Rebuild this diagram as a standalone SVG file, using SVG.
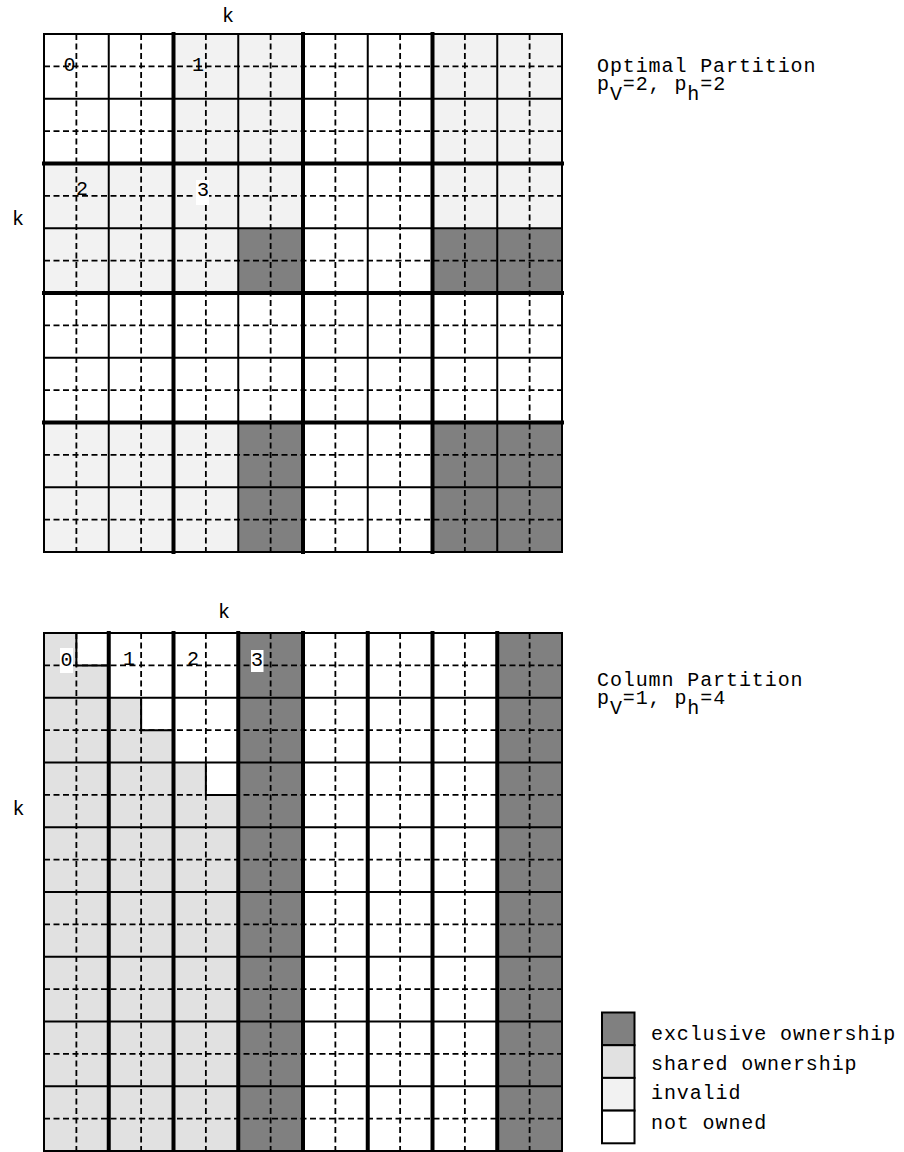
<svg xmlns="http://www.w3.org/2000/svg" width="904" height="1152" viewBox="0 0 904 1152">
<style>
text{font-family:"Liberation Mono","Courier New",monospace;font-size:20px;letter-spacing:0.9px;fill:#000}
.lbl{text-anchor:middle;letter-spacing:0}
.inv{fill:#f2f2f2}
.shr{fill:#e1e1e1}
.exc{fill:#808080}
.dash{fill:none;stroke:#000;stroke-width:1.8;stroke-dasharray:6 3.5}
.thin{fill:none;stroke:#000;stroke-width:2}
.thick{fill:none;stroke:#000;stroke-width:4;stroke-linecap:square}
.box{stroke:#000;stroke-width:2}
</style>
<rect width="904" height="1152" fill="#fff"/>

<g id="optimal-grid" transform="translate(44,34)">
  <rect x="0" y="0" width="518" height="518" fill="#fff"/>
  <rect class="inv" x="129.5" y="0" width="129.5" height="129.5"/>
  <rect class="inv" x="388.5" y="0" width="129.5" height="194.25"/>
  <rect class="inv" x="0" y="129.5" width="259" height="64.75"/>
  <rect class="inv" x="0" y="194.25" width="194.25" height="64.75"/>
  <rect class="inv" x="0" y="388.5" width="194.25" height="129.5"/>
  <rect class="exc" x="194.25" y="194.25" width="64.75" height="64.75"/>
  <rect class="exc" x="388.5" y="194.25" width="129.5" height="64.75"/>
  <rect class="exc" x="194.25" y="388.5" width="64.75" height="129.5"/>
  <rect class="exc" x="388.5" y="388.5" width="129.5" height="129.5"/>
  <path class="dash" d="M32.375,0V518M97.125,0V518M161.875,0V518M226.625,0V518M291.375,0V518M356.125,0V518M420.875,0V518M485.625,0V518M0,32.375H518M0,97.125H518M0,161.875H518M0,226.625H518M0,291.375H518M0,356.125H518M0,420.875H518M0,485.625H518"/>
  <path class="thin" d="M64.75,0V518M194.25,0V518M323.75,0V518M453.25,0V518M0,64.75H518M0,194.25H518M0,323.75H518M0,453.25H518"/>
  <rect class="thin" x="0" y="0" width="518" height="518"/>
  <path class="thick" d="M129.5,0V518M259,0V518M388.5,0V518M0,129.5H518M0,259H518M0,388.5H518"/>
  <rect x="152" y="146" width="13" height="25" fill="#fff"/>
  <text class="lbl" x="25.5" y="37">0</text>
  <text class="lbl" x="154" y="37">1</text>
  <text class="lbl" x="38" y="161">2</text>
  <text class="lbl" x="159" y="162">3</text>
</g>
<text class="lbl" x="228" y="22">k</text>
<text class="lbl" x="18" y="225">k</text>
<text x="597" y="72">Optimal Partition</text>
<text x="597" y="90">p<tspan dy="10">V</tspan><tspan dy="-10">=2, p</tspan><tspan dy="10">h</tspan><tspan dy="-10">=2</tspan></text>

<g id="column-grid" transform="translate(44,633)">
  <rect x="0" y="0" width="518" height="518" fill="#fff"/>
  <path class="shr" d="M0,0H32.375V32.375H64.75V64.75H97.125V97.125H129.5V129.5H161.875V161.875H194.25V518H0Z"/>
  <rect class="exc" x="194.25" y="0" width="64.75" height="518"/>
  <rect class="exc" x="453.25" y="0" width="64.75" height="518"/>
  <path class="dash" d="M32.375,0V518M97.125,0V518M161.875,0V518M226.625,0V518M291.375,0V518M356.125,0V518M420.875,0V518M485.625,0V518M0,32.375H518M0,97.125H518M0,161.875H518M0,226.625H518M0,291.375H518M0,356.125H518M0,420.875H518M0,485.625H518"/>
  <path class="thin" d="M0,64.75H518M0,129.5H518M0,194.25H518M0,259H518M0,323.75H518M0,388.5H518M0,453.25H518M32.375,0V32.375H64.75M97.125,64.75V97.125H129.5M161.875,129.5V161.875H194.25"/>
  <rect class="thin" x="0" y="0" width="518" height="518"/>
  <path class="thick" d="M64.75,0V518M129.5,0V518M194.25,0V518M259,0V518M323.75,0V518M388.5,0V518M453.25,0V518"/>
  <rect x="16" y="15" width="13" height="25" fill="#fff"/>
  <rect x="207" y="17" width="12.5" height="22" fill="#fff"/>
  <text class="lbl" x="22.5" y="33">0</text>
  <text class="lbl" x="85" y="32">1</text>
  <text class="lbl" x="149" y="32">2</text>
  <text class="lbl" x="213" y="33">3</text>
</g>
<text class="lbl" x="224" y="618">k</text>
<text class="lbl" x="18.5" y="815">k</text>
<text x="597" y="686">Column Partition</text>
<text x="597" y="704">p<tspan dy="10">V</tspan><tspan dy="-10">=1, p</tspan><tspan dy="10">h</tspan><tspan dy="-10">=4</tspan></text>

<g id="legend">
  <rect class="box exc" x="602" y="1012.5" width="32.5" height="32.7"/>
  <rect class="box shr" x="602" y="1045.2" width="32.5" height="32.7"/>
  <rect class="box inv" x="602" y="1077.9" width="32.5" height="32.7"/>
  <rect class="box" fill="#fff" x="602" y="1110.6" width="32.5" height="32.7"/>
  <text x="651" y="1040">exclusive ownership</text>
  <text x="651" y="1070">shared ownership</text>
  <text x="651" y="1099">invalid</text>
  <text x="651" y="1129">not owned</text>
</g>
</svg>
